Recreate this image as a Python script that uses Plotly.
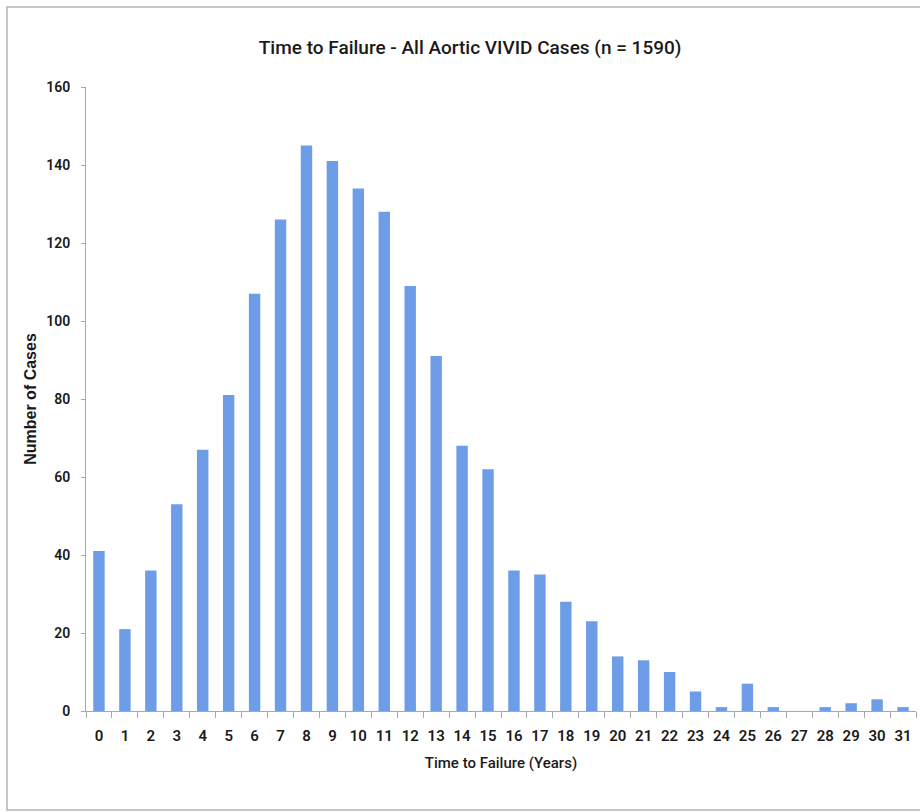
import plotly.graph_objects as go

# Years until failure and the number of cases in each year
years = [str(y) for y in range(32)]
cases = [41, 21, 36, 53, 67, 81, 107, 126, 145, 141, 134, 128, 109, 91, 68, 62,
         36, 35, 28, 23, 14, 13, 10, 5, 1, 7, 1, 0, 1, 2, 3, 1]
y_ticks = [0, 20, 40, 60, 80, 100, 120, 140, 160]

title_text = "Time to Failure - All Aortic VIVID Cases (n = 1590)"
x_title = "Time to Failure (Years)"
y_title = "Number of Cases"

narrow = "Roboto, Liberation Sans Narrow, sans-serif"
axis_grey = "#a8a8a8"
ink = "#1a1a1a"

fig = go.Figure(
    go.Bar(
        x=years,
        y=cases,
        width=0.44,
        marker=dict(color="#6c9de6", line=dict(width=0)),
    )
)

fig.update_layout(
    width=920,
    height=812,
    margin=dict(l=86, r=4, t=87, b=101),
    paper_bgcolor="white",
    plot_bgcolor="white",
    showlegend=False,
    title=dict(
        text=title_text,
        x=0.511,
        xanchor="center",
        xref="container",
        y=0.942,
        yanchor="middle",
        yref="container",
        font=dict(family=narrow, size=19, color=ink, weight=500),
    ),
    xaxis=dict(
        type="category",
        range=[-0.5, 31.5],
        showline=True,
        linecolor=axis_grey,
        linewidth=1,
        ticks="outside",
        tickson="boundaries",
        ticklen=6,
        tickcolor=axis_grey,
        tickangle=0,
        ticklabelstandoff=11,
        showgrid=False,
        zeroline=False,
        tickfont=dict(family=narrow, size=15, color=ink, weight=600),
        title=dict(text=x_title, standoff=13,
                   font=dict(family=narrow, size=15, color=ink, weight=500)),
    ),
    yaxis=dict(
        range=[0, 160],
        tickvals=y_ticks,
        showline=True,
        linecolor=axis_grey,
        linewidth=1,
        ticks="outside",
        ticklen=4,
        tickcolor=axis_grey,
        ticklabelstandoff=8,
        showgrid=False,
        zeroline=False,
        tickfont=dict(family=narrow, size=14, color=ink, weight=600),
        title=dict(text=y_title, standoff=5,
                   font=dict(family="Liberation Sans, Arial, sans-serif",
                             size=16, color=ink, weight="bold")),
    ),
    shapes=[
        # thin frame around the chart area
        dict(type="rect", xref="paper", yref="paper",
             x0=-0.0952, x1=1.01, y0=-0.1587, y1=1.1282,
             line=dict(color="#b4b4b4", width=1.5), fillcolor="rgba(0,0,0,0)",
             layer="below"),
    ],
)

fig.write_html("out.html")
